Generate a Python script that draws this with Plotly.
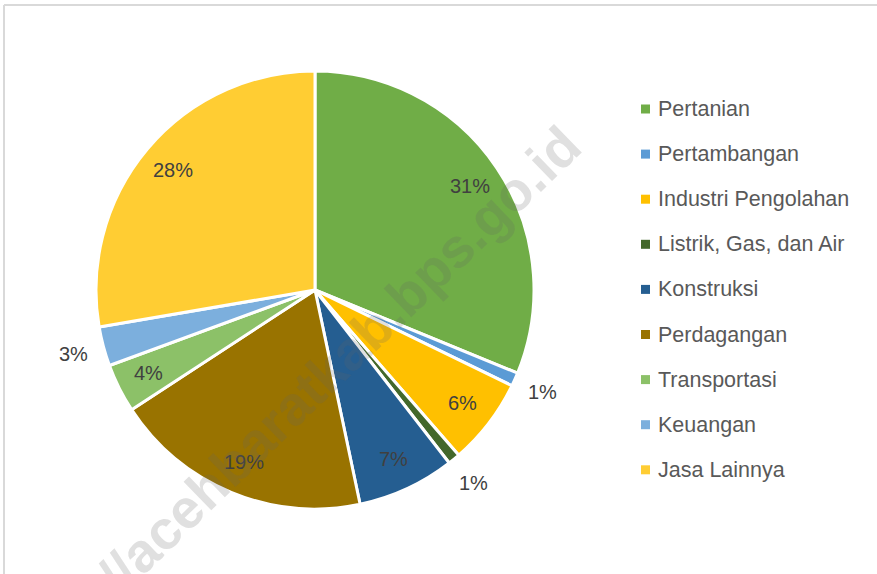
import math
import plotly.graph_objects as go

labels = ["Pertanian", "Pertambangan", "Industri Pengolahan", "Listrik, Gas, dan Air",
          "Konstruksi", "Perdagangan", "Transportasi", "Keuangan", "Jasa Lainnya"]
values = [31.2, 1.0, 6.4, 0.9, 7.2, 19.1, 3.6, 2.9, 27.7]
colors = ["#70AD47", "#5B9BD5", "#FFC000", "#43682B", "#255E91",
          "#997300", "#8CC168", "#7CAFDD", "#FFCD33"]
outside = [False, True, False, True, False, False, False, True, False]
watermark = "http://acehbaratkab.bps.go.id"

W, H = 877, 574
CX, CY, R = 315, 290, 219

def px(x):
    return x / W

def py(y):
    return 1 - y / H

fig = go.Figure(go.Pie(
    labels=labels, values=values, sort=False, direction="clockwise", rotation=0,
    textinfo="none", hoverinfo="label+percent",
    marker=dict(colors=colors, line=dict(color="white", width=3)),
    domain=dict(x=[px(CX - R), px(CX + R)], y=[py(CY + R), py(CY - R)]),
    showlegend=False,
))

annotations = []
total = sum(values)
cum = 0.0
for v, out in zip(values, outside):
    mid = (cum + v / 2) / total
    cum += v
    th = 2 * math.pi * mid
    r = R * (1.14 if out else 0.85)
    x = CX + r * math.sin(th)
    y = CY - r * math.cos(th)
    annotations.append(dict(
        x=px(x), y=py(y), xref="paper", yref="paper", showarrow=False,
        text=f"{round(v / total * 100)}%",
        font=dict(family="Liberation Sans, Arial", size=20, color="#404040"),
        xanchor="center", yanchor="middle"))

shapes = []
LX, LY0, LDY = 641, 109, 45.1
for i, (lab, col) in enumerate(zip(labels, colors)):
    yc = LY0 + i * LDY
    shapes.append(dict(type="rect", xref="paper", yref="paper",
                       x0=px(LX), x1=px(LX + 9), y0=py(yc + 4.5), y1=py(yc - 4.5),
                       fillcolor=col, line=dict(width=0)))
    annotations.append(dict(
        x=px(656), y=py(yc), xref="paper", yref="paper", showarrow=False,
        text=lab, xanchor="left", yanchor="middle",
        font=dict(family="Liberation Sans, Arial", size=21.5, color="#595959")))

# watermark
annotations.append(dict(
    x=px(295), y=py(403), xref="paper", yref="paper", showarrow=False,
    text="<b>" + watermark + "</b>", textangle=-44, xanchor="center", yanchor="middle",
    font=dict(family="Liberation Sans, Arial", size=55, color="rgba(100,100,100,0.2)")))

# chart border (top and left visible)
shapes.append(dict(type="line", xref="paper", yref="paper", x0=px(4), x1=1.02,
                   y0=py(5), y1=py(5), line=dict(color="#D9D9D9", width=2)))
shapes.append(dict(type="line", xref="paper", yref="paper", x0=px(4), x1=px(4),
                   y0=py(5), y1=-0.02, line=dict(color="#D9D9D9", width=2)))

fig.update_layout(
    width=W, height=H, autosize=False,
    margin=dict(l=0, r=0, t=0, b=0),
    paper_bgcolor="white", plot_bgcolor="white",
    annotations=annotations, shapes=shapes,
)

fig.write_html("out.html", config={"displayModeBar": False},
               post_script="document.body.style.margin='0';")
